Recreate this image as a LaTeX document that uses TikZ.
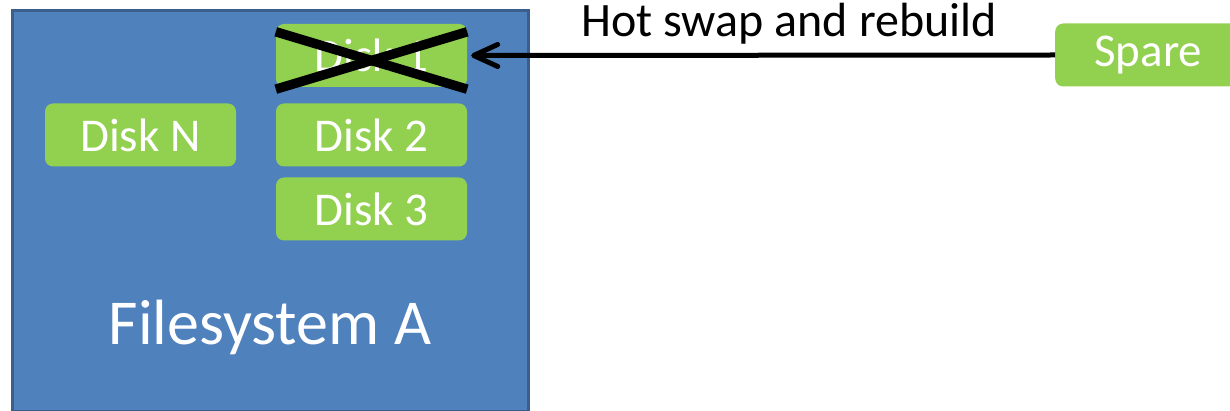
\documentclass[tikz,border=0pt]{standalone}
\usepackage{fontspec}
\setmainfont{Carlito}
\usetikzlibrary{arrows.meta}
\definecolor{fsblue}{HTML}{4F81BD}
\definecolor{fsedge}{HTML}{3B5E8C}
\definecolor{diskgreen}{HTML}{92D050}
\begin{document}
\begin{tikzpicture}[x=1pt,y=-1pt,
  disk/.style={fill=diskgreen, rounded corners=8pt, minimum width=191pt, minimum height=63pt,
    inner sep=0pt, text=white, font=\fontsize{47}{47}\selectfont},
  fsbox/.style={fill=fsblue, draw=fsedge, line width=3pt},
  link/.style={line width=5pt, -{Straight Barb[length=24pt,width=22pt,line width=5pt,round]}},
  crossline/.style={line width=9.5pt}]
\useasboundingbox (0,0) rectangle (1230,411);
% filesystem container
\node[fsbox, minimum width=516pt, minimum height=401pt, inner sep=0pt, anchor=north west] (fs) at (11,9) {};
\node[text=white, font=\fontsize{64}{64}\selectfont] (fslabel) at (270,327) {Filesystem A};
% disks
\node[disk] (d1) at (371.5,55.5) {Disk 1};
\node[disk] (d2) at (371.5,135) {Disk 2};
\node[disk] (d3) at (371.5,209) {Disk 3};
\node[disk] (dn) at (140.5,135) {Disk N};
\node[disk, minimum width=190pt, anchor=west] (spare) at (1055,55) {\hspace*{-4pt}Spare};
% failed disk crossed out
\draw[crossline] ([yshift=-8pt]d1.north west) -- ([yshift=-2pt]d1.south east);
\draw[crossline] ([yshift=-2pt]d1.south west) -- ([yshift=-8pt]d1.north east);
% replacement
\draw[link] (spare.west) -- ([xshift=4pt]d1.east);
\node[font=\fontsize{48}{48}\selectfont] (lbl) at (789,24) {Hot swap and rebuild};
\end{tikzpicture}
\end{document}
